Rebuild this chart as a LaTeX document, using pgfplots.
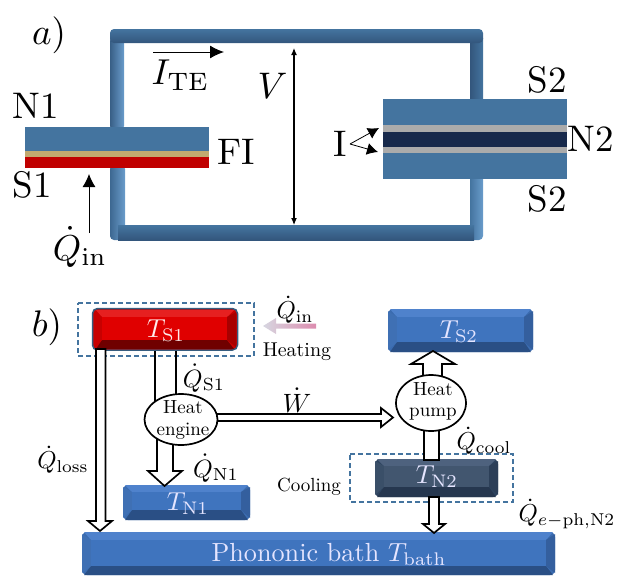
\documentclass[border=0pt]{standalone}
\usepackage{amsmath}
\usepackage{pgfplots}
\pgfplotsset{compat=1.18}
\usetikzlibrary{arrows.meta}
\definecolor{wire}{HTML}{44749F}
\definecolor{wired}{HTML}{33567C}
\definecolor{wirel}{HTML}{6A9CCB}
\definecolor{blkblue}{HTML}{44749F}
\definecolor{tan}{HTML}{C2A96F}
\definecolor{fired}{HTML}{C00000}
\definecolor{navy}{HTML}{17294B}
\definecolor{gry}{HTML}{ABABAB}
% bevel colours
\definecolor{bluebase}{HTML}{3B6CB0}\definecolor{bluetop}{HTML}{4F82CC}\definecolor{blueleft}{HTML}{3F70B4}\definecolor{blueright}{HTML}{345F9E}\definecolor{bluebot}{HTML}{2A4F85}\definecolor{bluemid}{HTML}{3F74BE}
\definecolor{redbase}{HTML}{C80000}\definecolor{redtop}{HTML}{E62020}\definecolor{redleft}{HTML}{C80000}\definecolor{redright}{HTML}{A80000}\definecolor{redbot}{HTML}{700000}\definecolor{redmid}{HTML}{E00000}
\definecolor{darkbase}{HTML}{2E4460}\definecolor{darktop}{HTML}{4E627E}\definecolor{darkleft}{HTML}{3A4F68}\definecolor{darkright}{HTML}{2C3F58}\definecolor{darkbot}{HTML}{26374F}\definecolor{darkmid}{HTML}{42566F}
\newcommand\outl[1]{\addplot[draw=black,fill=white,line width=1.7pt,line join=miter] coordinates {#1} -- cycle;}
\newcommand\rect[5]{\addplot[draw=none,#5] coordinates {(#1,#2)(#3,#2)(#3,#4)(#1,#4)} -- cycle;}
% x0 y0 x1 y1 ix0 iy0 ix1 iy1 prefix
\newcommand\bevel[9]{%
 \addplot[draw=none,fill=#9base,rounded corners=5pt] coordinates {(#1,#2)(#3,#2)(#3,#4)(#1,#4)} -- cycle;
 \pgfmathsetmacro\xa{#1+2}\pgfmathsetmacro\xb{#3-2}\pgfmathsetmacro\ya{#2+2}\pgfmathsetmacro\yb{#4-2}%
 \addplot[draw=none,fill=#9top] coordinates {(\xa,#2)(\xb,#2)(#7,#6)(#5,#6)} -- cycle;
 \addplot[draw=none,fill=#9bot] coordinates {(\xa,#4)(\xb,#4)(#7,#8)(#5,#8)} -- cycle;
 \addplot[draw=none,fill=#9left] coordinates {(#1,\ya)(#5,#6)(#5,#8)(#1,\yb)} -- cycle;
 \addplot[draw=none,fill=#9right] coordinates {(#3,\ya)(#7,#6)(#7,#8)(#3,\yb)} -- cycle;
 \addplot[draw=none,fill=#9mid] coordinates {(#5,#6)(#7,#6)(#7,#8)(#5,#8)} -- cycle;
}
% x y scale text
\newcommand\lab[4]{\node[inner sep=0pt,anchor=center,scale=#3] at (axis cs:#1,#2) {#4};}
\begin{document}
\begin{tikzpicture}
\begin{axis}[
  scale only axis,width=620pt,height=576pt,
  xmin=0,xmax=620,ymin=0,ymax=576,y dir=reverse,
  hide axis,clip=false]
\addplot[draw=none,forget plot] coordinates {(0,0)(620,576)};
% circuit wires: verticals first
\addplot[draw=none,left color=wired!70!wire,right color=wirel,rounded corners=3pt] coordinates {(110,38)(124,38)(124,129)(110,129)} -- cycle;
\addplot[draw=none,left color=wired!40!wire,right color=wirel,rounded corners=4pt] coordinates {(110,165)(125,165)(125,240)(110,240)} -- cycle;
\addplot[draw=none,left color=wired,right color=wire] coordinates {(470,38)(483,38)(483,102)(470,102)} -- cycle;
\addplot[draw=none,left color=wire,right color=wirel,rounded corners=4pt] coordinates {(470,175)(483,175)(483,240)(470,240)} -- cycle;
\addplot[draw=none,top color=wire,bottom color=wired,rounded corners=4pt] coordinates {(110,29)(483,29)(483,43)(110,43)} -- cycle;
\addplot[draw=none,top color=wire,bottom color=wired] coordinates {(118,225.5)(474,225.5)(474,240)(118,240)} -- cycle;
% left junction
\rect{25}{127}{209}{151}{fill=blkblue}
\rect{25}{151}{209}{157}{fill=tan}
\rect{25}{157}{209}{168}{fill=fired}
% right junction
\rect{383}{99}{567}{179}{fill=blkblue}
\rect{383}{125}{567}{132}{fill=gry}
\rect{383}{132}{567}{147}{fill=navy}
\rect{383}{147}{567}{153}{fill=gry}
% arrows panel a
\addplot[black,line width=1pt,-{Latex[length=14pt,width=13pt]}] coordinates {(153,52)(224,52)};
\addplot[black,line width=1.1pt,{Latex[length=7pt,width=6pt]}-{Latex[length=7pt,width=6pt]}] coordinates {(294,48)(294,225)};
\addplot[black,line width=1pt,-{Latex[length=13pt,width=13pt]}] coordinates {(89,233)(89,174)};
\addplot[black,line width=.8pt,-{Latex[length=11pt,width=12pt]}] coordinates {(350,144)(379,128)};
\addplot[black,line width=.8pt,-{Latex[length=11pt,width=12pt]}] coordinates {(350,144)(378,152)};
\lab{49}{35}{3.7}{$a)$}
\lab{35.5}{106}{3.7}{N1}
\lab{32}{185}{3.7}{S1}
\lab{236}{152}{3.7}{FI}
\lab{180.5}{75}{3.6}{$I_{\mathrm{TE}}$}
\lab{272.5}{86}{3.7}{$V$}
\lab{80}{247}{3.6}{$\dot Q_{\mathrm{in}}$}
\lab{340}{144}{3.7}{I}
\lab{547}{80}{3.7}{S2}
\lab{591}{139}{3.7}{N2}
\lab{547}{199}{3.7}{S2}
\lab{47}{327}{3.7}{$b)$}
% panel b: dashed boxes
\addplot[wire,line width=1.5pt,dash pattern=on 5pt off 3pt] coordinates {(78,303)(254,303)(254,356)(78,356)} -- cycle;
\addplot[wire,line width=1.5pt,dash pattern=on 5pt off 3pt] coordinates {(350,454)(513,454)(513,502)(350,502)} -- cycle;
% boxes
\addplot[draw=wire!80!black,line width=1.5pt,fill=redbase,rounded corners=5pt] coordinates {(92.5,308.5)(237.5,308.5)(237.5,350)(92.5,350)} -- cycle;
\bevel{94}{310}{236}{349}{102}{317}{227}{340}{red}
\bevel{123}{485}{250}{520}{132}{492}{241}{510}{blue}
\bevel{388}{309}{533}{352}{397}{317}{524}{342}{blue}
\bevel{375}{459}{498}{497}{384}{466}{489}{487}{dark}
\bevel{82}{532}{555}{575}{91}{540}{546}{566}{blue}
% flow arrows
\outl{(96,349)(105.5,349)(105.5,521)(112,521)(100,531)(88,521)(96,521)}
\addplot[black,line width=1.7pt] coordinates {(155,351)(155,402)};
\addplot[black,line width=1.7pt] coordinates {(176,351)(176,396)};
\outl{(157,438)(173,438)(173,471)(182,471)(164.5,486)(148,471)(157,471)}
\outl{(215,414)(381,414)(381,408)(393,417.5)(381,427)(381,421)(215,421)}
\outl{(423,378)(423,364)(411,364)(433,351)(455,364)(442,364)(442,378)}
\outl{(424,428)(439,428)(439,460)(424,460)}
\outl{(429,497)(439,497)(439,524)(445,524)(434,533)(423,524)(429,524)}
% engines
\draw[black,line width=1.7pt,fill=white] (axis cs:181,419.5) ellipse [x radius=36.5pt,y radius=25.5pt];
\draw[black,line width=1.7pt,fill=white] (axis cs:431,403) ellipse [x radius=35pt,y radius=28pt];
\lab{183}{407}{1.9}{Heat}
\lab{183}{431}{1.9}{engine}
\lab{433}{389}{1.9}{Heat}
\lab{433}{414}{1.9}{pump}
% pink arrow
\addplot[draw=none,left color=blue!10!gry!40,right color=red!70!blue!45] coordinates {(263,326)(276,318)(276,323.5)(316,323.5)(316,328.5)(276,328.5)(276,334)} -- cycle;
% labels
\lab{166}{331}{2.6}{\color{white!92!red}$T_{\mathrm{S1}}$}
\lab{188}{504}{2.6}{\color{white!90!blue}$T_{\mathrm{N1}}$}
\lab{459}{332}{2.6}{\color{white!90!blue}$T_{\mathrm{S2}}$}
\lab{437}{477}{2.6}{\color{white!90!blue}$T_{\mathrm{N2}}$}
\lab{329}{554}{2.62}{\color{white!90!blue}Phononic bath $T_{\mathrm{bath}}$}
\lab{295}{310}{2.45}{$\dot Q_{\mathrm{in}}$}
\lab{297}{352}{2}{Heating}
\lab{309}{487}{1.9}{Cooling}
\lab{204}{378}{2.5}{$\dot Q_{\mathrm{S1}}$}
\lab{63}{460}{2.45}{$\dot Q_{\mathrm{loss}}$}
\lab{216}{468}{2.5}{$\dot Q_{\mathrm{N1}}$}
\lab{484}{441}{2.45}{$\dot Q_{\mathrm{cool}}$}
\lab{567}{514}{2.45}{$\dot Q_{e-\mathrm{ph,N2}}$}
\lab{297}{400}{2.65}{$\dot W$}
\end{axis}
\end{tikzpicture}
\end{document}
